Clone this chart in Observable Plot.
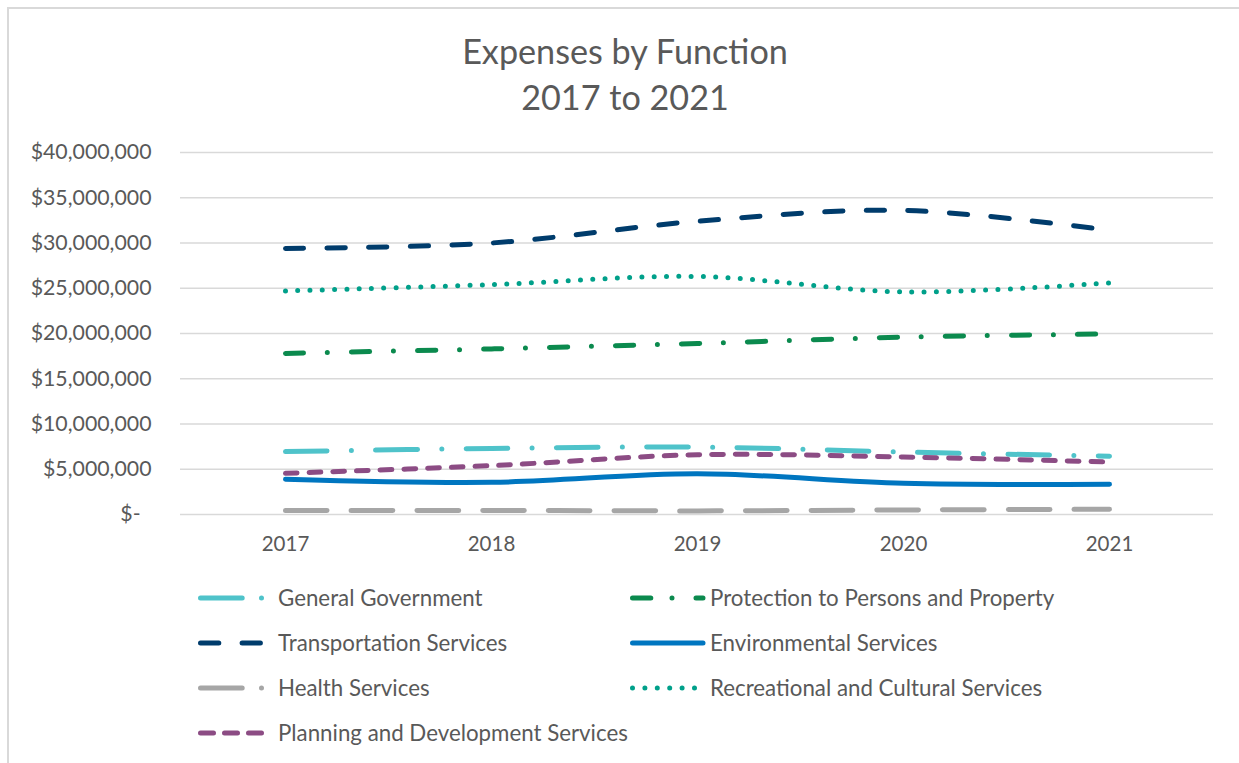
<!DOCTYPE html>
<html><head><meta charset="utf-8">
<script src="https://cdn.jsdelivr.net/npm/d3@7"></script>
<script src="https://cdn.jsdelivr.net/npm/@observablehq/plot@0.6"></script>
<style>
body{margin:0;background:#fff;font-family:Lato, "Open Sans", sans-serif;color:#595959}
#wrap{position:relative;width:1239px;height:763px;overflow:hidden;background:#fff}
#frame{position:absolute;left:7px;top:7px;width:1300px;height:800px;border-left:2px solid #d9d9d9;border-top:2px solid #d9d9d9;box-sizing:border-box}
#title{position:absolute;left:11px;top:28px;width:1228px;text-align:center;font-size:34.2px;line-height:46px;color:#595959}
#chart{position:absolute;left:0;top:0}
.leg{position:absolute;display:flex;align-items:center;height:30px;font-size:22.3px;color:#595959;white-space:nowrap}
.leg svg{flex:none}
</style>
</head><body>
<div id="wrap">
  <div id="frame"></div>
  <div id="title">Expenses by Function<br>2017 to 2021</div>
  <div id="chart"></div>
  <div id="legend"></div>
</div>
<script>
// ---- data ----
const years = ["2017", "2018", "2019", "2020", "2021"];
const seriesNames = [
  "General Government",
  "Protection to Persons and Property",
  "Transportation Services",
  "Environmental Services",
  "Health Services",
  "Recreational and Cultural Services",
  "Planning and Development Services"
];
const generalGovernment = [6950000, 7300000, 7450000, 6900000, 6450000];
const protection = [17800000, 18300000, 18900000, 19600000, 19950000];
const transportation = [29400000, 30000000, 32400000, 33600000, 31400000];
const environmental = [3900000, 3550000, 4500000, 3450000, 3350000];
const health = [450000, 450000, 400000, 500000, 580000];
const recreational = [24700000, 25400000, 26300000, 24600000, 25600000];
const planning = [4550000, 5400000, 6600000, 6350000, 5800000];
const yTicks = [0, 5000000, 10000000, 15000000, 20000000, 25000000, 30000000, 35000000, 40000000];

const seriesValues = [generalGovernment, protection, transportation, environmental, health, recreational, planning];

// ---- styles ----
const colors = ["#4fc3ca", "#0b8a4e", "#003c6c", "#0076c0", "#a6a6a6", "#00a08a", "#8c4c84"];
const dashes = ["41.7 24.3 0 24.3", "18.3 23.7 0 24", "18.3 23.3", null, "41.7 24", "0 12.3", "11.7 12"];
const legendDashes = ["41.7 19.3 0 24.3", "18.3 21.2 0 24", "18.3 23.3", null, "41.7 19.3 0 24.3", "0 12.4", "13 11"];

const rows = seriesNames.map((name, s) => years.map((year, i) => ({series: name, year, value: seriesValues[s][i]})));

const fmt = v => v === 0 ? "$-\u00a0\u00a0" : "$" + d3.format(",")(v);

const plot = Plot.plot({
  width: 1239,
  height: 570,
  marginLeft: 180,
  marginRight: 26,
  marginTop: 152,
  marginBottom: 56,
  style: {fontFamily: "Lato, 'Open Sans', sans-serif", fontSize: "21.3px", color: "#595959", background: "transparent", overflow: "visible"},
  x: {type: "point", domain: years, padding: 0.5, label: null},
  y: {domain: [0, 40000000], label: null},
  marks: [
    Plot.ruleY(yTicks, {stroke: "#d9d9d9", strokeWidth: 1.5}),
    Plot.axisY(yTicks, {tickSize: 0, tickPadding: 29, tickFormat: fmt, label: null}),
    Plot.axisX({tickSize: 0, tickPadding: 22, label: null, fontSize: "20.5px"}),
    ...rows.map((data, s) => Plot.lineY(data, {
      x: "year", y: "value", stroke: colors[s], strokeWidth: 5,
      strokeDasharray: dashes[s] || undefined, strokeLinecap: "round", strokeLinejoin: "round",
      curve: "cardinal"
    }))
  ]
});
document.getElementById("chart").appendChild(plot);

// ---- legend ----
const legend = document.getElementById("legend");
const colX = [{sw: 197.5, tx: 278}, {sw: 630, tx: 710}];
const rowY = [597.5, 642.5, 687.5, 732.5];
seriesNames.forEach((name, s) => {
  const col = s % 2, row = Math.floor(s / 2);
  const div = document.createElement("div");
  div.className = "leg";
  div.style.left = colX[col].sw + "px";
  div.style.top = (rowY[row] - 15) + "px";
  const w = colX[col].tx - colX[col].sw - 4;
  const dash = legendDashes[s] ? `stroke-dasharray="${legendDashes[s]}"` : "";
  div.innerHTML = `<svg width="${w}" height="30"><line x1="2.5" x2="${w - 3}" y1="15" y2="15" stroke="${colors[s]}" stroke-width="5" stroke-linecap="round" ${dash}/></svg><span style="margin-left:4px">${name}</span>`;
  legend.appendChild(div);
});
</script>
</body></html>
